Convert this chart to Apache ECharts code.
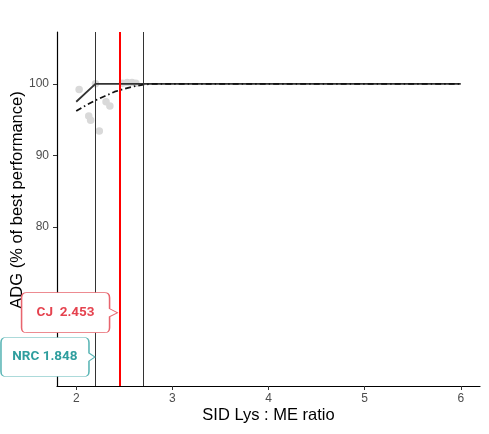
<!DOCTYPE html>
<html>
<head>
<meta charset="utf-8">
<script src="https://cdn.jsdelivr.net/npm/echarts@6/dist/echarts.min.js"></script>
<style>html,body{margin:0;padding:0;background:#fff}#chart{width:489px;height:434px}</style>
</head>
<body>
<div id="chart"></div>
<script>
// observed ADG points
var obsX = [2.03, 2.13, 2.15, 2.20, 2.24, 2.31, 2.35, 2.48, 2.53, 2.58, 2.62];
var obsY = [99.2, 95.5, 94.9, 100.0, 93.4, 97.5, 96.9, 100.1, 100.2, 100.2, 100.1];

// broken-line fit (solid)
var blX = [2.0, 2.2, 6.0];
var blY = [97.5, 100.0, 100.0];

// curvilinear fit (dot-dash)
var qpX = [2.0, 2.1, 2.2, 2.3, 2.4, 2.5, 2.6, 2.7, 2.8, 6.0];
var qpY = [96.2, 97.0, 97.7, 98.3, 98.9, 99.3, 99.65, 99.9, 100.0, 100.0];

// breakpoints
var breakX = [2.2, 2.7];
var cjX = 2.453;

// callouts
var calloutText = ['CJ  2.453', 'NRC 1.848'];
var calloutPos = [[2.43, 68.0], [2.195, 61.8]];

var xTicks = [2, 3, 4, 5, 6];
var yTicks = [80, 90, 100];

function zip(a, b) {
    return a.map(function (v, i) { return [v, b[i]]; });
}

var myChart = echarts.init(document.getElementById('chart'));

var font = 'Liberation Sans';

var option = {
    animation: false,
    grid: { left: 57, right: 9, top: 32, bottom: 48, containLabel: false, outerBoundsMode: 'none' },
    xAxis: {
        type: 'value',
        min: 1.8,
        max: 6.2,
        name: 'SID Lys : ME ratio',
        nameLocation: 'middle',
        nameGap: 21,
        nameMoveOverlap: false,
        nameTextStyle: { color: '#000', fontSize: 16.5, fontFamily: font },
        axisLine: { lineStyle: { color: '#000', width: 1.2 } },
        axisTick: { customValues: xTicks, length: 4, lineStyle: { color: '#333' } },
        axisLabel: { customValues: xTicks, color: '#4d4d4d', fontSize: 12, fontFamily: font, margin: 7 },
        splitLine: { show: false }
    },
    yAxis: {
        type: 'value',
        min: 57.75,
        max: 107.25,
        name: 'ADG (% of best performance)',
        nameLocation: 'middle',
        nameGap: 31,
        nameMoveOverlap: false,
        nameTextStyle: { color: '#000', fontSize: 16.5, fontFamily: font, padding: [0, 0, 0, 18] },
        axisLine: { show: true, lineStyle: { color: '#000', width: 1.2 } },
        axisTick: { show: true, customValues: yTicks, length: 4, lineStyle: { color: '#333' } },
        axisLabel: { customValues: yTicks, color: '#4d4d4d', fontSize: 12, fontFamily: font, margin: 8 },
        splitLine: { show: false }
    },
    series: [
        {
            type: 'scatter',
            data: zip(obsX, obsY),
            symbolSize: 7.5,
            itemStyle: { color: '#d9d9d9', opacity: 1 },
            z: 1,
            markLine: {
                silent: true,
                symbol: 'none',
                label: { show: false },
                data: [
                    { xAxis: breakX[0], lineStyle: { color: '#333', width: 1, type: 'solid' } },
                    { xAxis: breakX[1], lineStyle: { color: '#333', width: 1, type: 'solid' } },
                    { xAxis: cjX, lineStyle: { color: '#ff0000', width: 2, type: 'solid' } }
                ]
            }
        },
        {
            type: 'line',
            data: zip(blX, blY),
            showSymbol: false,
            lineStyle: { color: '#333', width: 1.8 },
            z: 3
        },
        {
            type: 'line',
            data: zip(qpX, qpY),
            showSymbol: false,
            lineStyle: { color: '#111', width: 1.8, type: [6, 3, 1.5, 3] },
            z: 3
        },
        {
            type: 'scatter',
            clip: false,
            z: 10,
            data: [
                {
                    value: calloutPos[0],
                    symbol: 'path://M5,0H83Q88,0 88,5V16L96,20L88,24V35Q88,40 83,40H5Q0,40 0,35V5Q0,0 5,0Z',
                    symbolSize: [96, 40],
                    symbolOffset: [-48, 0],
                    itemStyle: { color: '#fff', borderColor: '#e8656e', borderWidth: 1, opacity: 1 },
                    label: {
                        show: true, position: 'inside', offset: [-4, 0],
                        formatter: calloutText[0],
                        color: '#e5434f', fontSize: 13.5, fontWeight: 'bold', fontFamily: 'Roboto'
                    }
                },
                {
                    value: calloutPos[1],
                    symbol: 'path://M5,0H83Q88,0 88,5V15.5L94,19.5L88,23.5V34Q88,39 83,39H5Q0,39 0,34V5Q0,0 5,0Z',
                    symbolSize: [94, 39],
                    symbolOffset: [-47, 0],
                    itemStyle: { color: '#fff', borderColor: '#5ab5b5', borderWidth: 1, opacity: 1 },
                    label: {
                        show: true, position: 'inside', offset: [-3, 0],
                        formatter: calloutText[1],
                        color: '#2f9e9e', fontSize: 13.5, fontWeight: 'bold', fontFamily: 'Roboto'
                    }
                }
            ]
        }
    ]
};

myChart.setOption(option);
</script>
</body>
</html>
